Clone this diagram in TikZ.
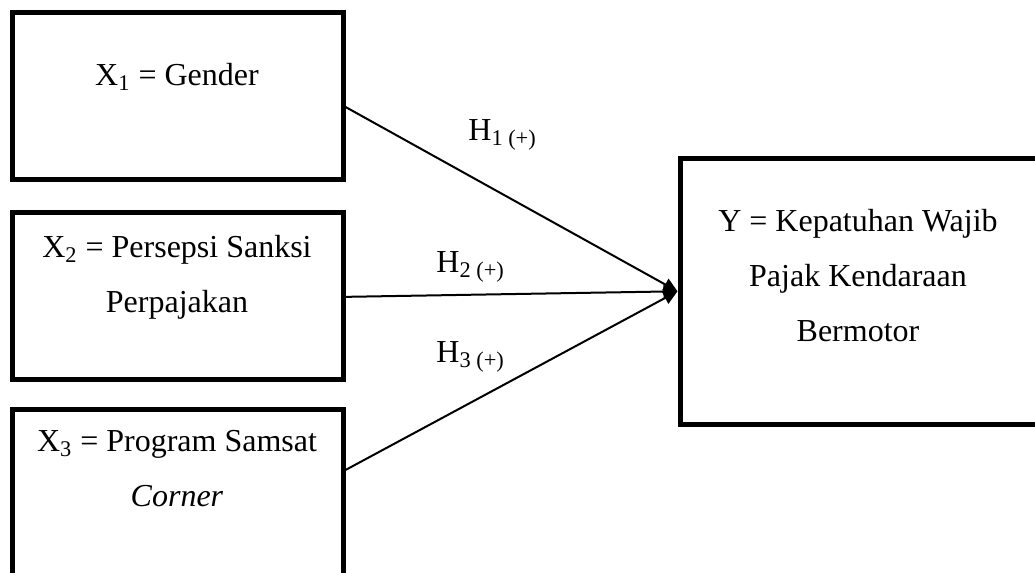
\documentclass[tikz,border=0pt]{standalone}
\usepackage{fontspec}
\setmainfont{Liberation Serif}
\usetikzlibrary{arrows.meta,calc}
\begin{document}
\begin{tikzpicture}[x=0.5pt,y=-0.5pt,
  box/.style={draw,line width=2.5pt,inner sep=0pt},
  lbl/.style={font=\fontsize{16}{27.5}\selectfont,align=center,inner sep=0pt,anchor=base},
  hlbl/.style={font=\fontsize{16}{19}\selectfont,inner sep=0pt,anchor=base west},
  hyp/.style={line width=1pt,-{Triangle[length=7pt,width=6.5pt]}}]
\useasboundingbox (0,0) rectangle (1035,573);
\clip (0,0) rectangle (1035,573);
\fill[white] (0,0) rectangle (1035,573);
% boxes
\node[box,minimum width=165.5pt,minimum height=83.75pt] (x1) at (177.5,95.75) {};
\node[box,minimum width=165.5pt,minimum height=83.15pt] (x2) at (177.5,295.85) {};
\node[box,minimum width=165.5pt,minimum height=85.5pt] (x3) at (177.5,494.5) {};
\node[box,minimum width=180pt,minimum height=133pt] (y) at (860,291.3) {};
% texts (base anchor = baseline of last line)
\node[lbl] (tx1) at (177,85) {X\textsubscript{1} = Gender};
\node[lbl] (tx2) at (177,312.7) {X\textsubscript{2} = Persepsi Sanksi\\Perpajakan};
\node[lbl] (tx3) at (177,506.7) {X\textsubscript{3} = Program Samsat\\\textit{Corner}};
\node[lbl] (ty) at (858,341.7) {Y = Kepatuhan Wajib\\Pajak Kendaraan\\Bermotor};
% arrows
\draw[hyp] ([yshift=-5.6pt]x1.east) -- (y.west);
\draw[hyp] ([yshift=-0.5pt]x2.east) -- (y.west);
\draw[hyp] ([yshift=12.25pt]x3.east) -- (y.west);
% hypothesis labels
\node[hlbl] (h1) at (468,140) {H\textsubscript{1 (+)}};
\node[hlbl] (h2) at (436,272.7) {H\textsubscript{2 (+)}};
\node[hlbl] (h3) at (436,362.7) {H\textsubscript{3 (+)}};
\end{tikzpicture}
\end{document}
